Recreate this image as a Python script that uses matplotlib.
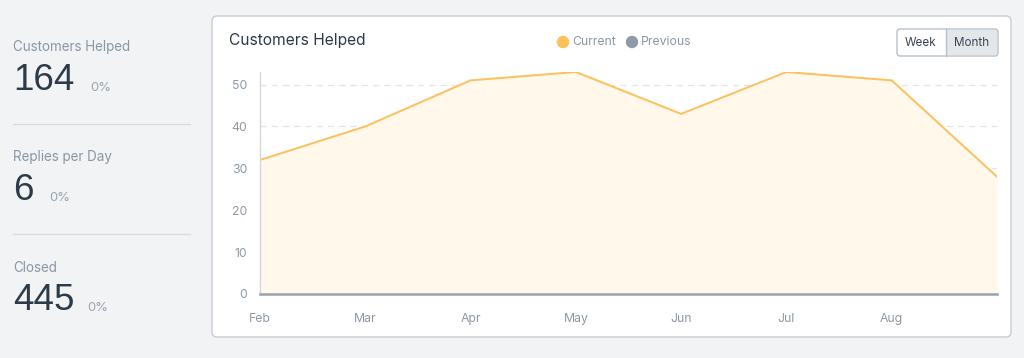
"""Dashboard card: Customers Helped, monthly current vs previous."""

import matplotlib
matplotlib.use("Agg")
import matplotlib.pyplot as plt
from matplotlib.patches import FancyBboxPatch, Rectangle, Circle

plt.rcParams["font.family"] = ["Inter", "DejaVu Sans"]

# stats column
stat_labels = ["Customers Helped", "Replies per Day", "Closed"]
stat_values = ["164", "6", "445"]
stat_changes = ["0%", "0%", "0%"]

# chart data
months = ["Feb", "Mar", "Apr", "May", "Jun", "Jul", "Aug", "Sep"]
current = [32, 40, 51, 53, 43, 53, 51, 28]
previous = [0, 0, 0, 0, 0, 0, 0, 0]
month_labels = ["Feb", "Mar", "Apr", "May", "Jun", "Jul", "Aug"]
y_ticks = [0, 10, 20, 30, 40, 50]

W, H = 1024, 358
BG = "#f2f3f5"
MUTED = "#8a97a5"
DARK = "#2d3a48"
ORANGE = "#fdc05a"
GRAY = "#97a3af"

fig = plt.figure(figsize=(W / 100, H / 100), dpi=100, facecolor=BG)

# background layer in pixel coordinates
bg = fig.add_axes([0, 0, 1, 1])
bg.set_xlim(0, W)
bg.set_ylim(H, 0)
bg.axis("off")

# left stats
label_y = [47, 157, 268]
value_y = [80, 190, 300]
change_x = [90, 49, 87]
for i, (lab, val, chg) in enumerate(zip(stat_labels, stat_values, stat_changes)):
    bg.text(13, label_y[i], lab, fontsize=9.7, color=MUTED, va="center", ha="left")
    bg.text(13, value_y[i], val, fontsize=26.5, color=DARK, va="center", ha="left",
            family=["Liberation Sans", "DejaVu Sans"])
    bg.text(change_x[i], value_y[i] + 8, chg, fontsize=9.4, color="#9aa5b1", va="center", ha="left")
for y in [124, 234]:
    bg.plot([13, 190], [y, y], color="#d5dce3", lw=1)

# card
card = FancyBboxPatch((212, 16), 799, 321, boxstyle="round,pad=0,rounding_size=5",
                      facecolor="white", edgecolor="#c8cdd3", lw=1)
bg.add_patch(card)
bg.text(229, 41, "Customers Helped", fontsize=11.2, color=DARK, va="center", ha="left")

# legend
bg.add_patch(Circle((563, 42), 5.5, color=ORANGE))
bg.text(572, 42, "Current", fontsize=8.8, color=MUTED, va="center", ha="left")
bg.add_patch(Circle((632, 42), 5.5, color="#8f9aa8"))
bg.text(641, 42, "Previous", fontsize=8.8, color=MUTED, va="center", ha="left")

# Week / Month toggle
bg.add_patch(FancyBboxPatch((897, 29), 101, 27, boxstyle="round,pad=0,rounding_size=3",
                            facecolor="white", edgecolor="#b7c0c9", lw=1))
bg.add_patch(Rectangle((946, 29.6), 51.4, 25.8, facecolor="#e3e7ea", edgecolor="none"))
bg.plot([946, 946], [29, 56], color="#b7c0c9", lw=1)
bg.text(921, 42.5, "Week", fontsize=8.4, color="#3a4654", va="center", ha="center")
bg.text(971.5, 42.5, "Month", fontsize=8.4, color="#3a4654", va="center", ha="center")

# chart axes
left, right, top, bottom = 260, 997, 72, 294
ax = fig.add_axes([left / W, (H - bottom) / H, (right - left) / W, (bottom - top) / H])
ax.set_facecolor("none")
x = list(range(len(months)))
ax.fill_between(x, current, 0, color="#fff8eb", lw=0)
ax.plot(x, current, color=ORANGE, lw=1.4)
ax.plot(x, previous, color=GRAY, lw=1.8, clip_on=False, zorder=5)

ax.set_xlim(0, len(months) - 1)
ax.set_ylim(0, 53)
ax.set_yticks(y_ticks)
ax.set_xticks(range(len(month_labels)))
ax.set_xticklabels(month_labels)
ax.grid(axis="y", color="#e4e4e4", linestyle=(0, (5, 4)), lw=0.9)
ax.set_axisbelow(True)
for side in ["top", "right", "bottom"]:
    ax.spines[side].set_visible(False)
ax.spines["left"].set_color("#d3d8de")
ax.spines["left"].set_linewidth(1)
ax.tick_params(axis="both", length=0, labelsize=8.8, labelcolor="#8d99a6")
ax.tick_params(axis="y", pad=9)
ax.tick_params(axis="x", pad=14)

fig.savefig("out.png", dpi=100, facecolor=BG)
